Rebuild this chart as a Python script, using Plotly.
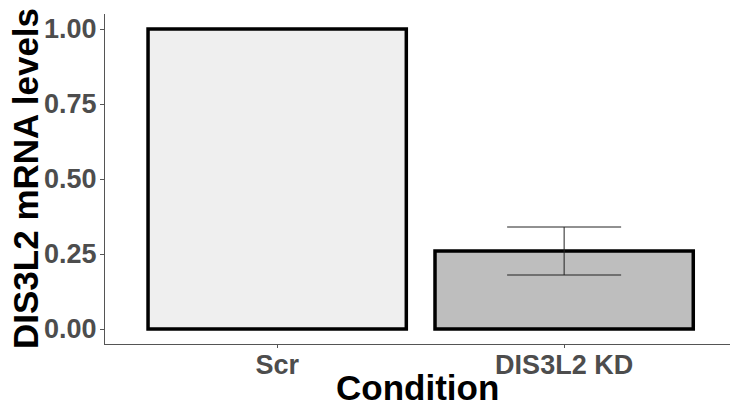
import plotly.graph_objects as go

conditions = ["Scr", "DIS3L2 KD"]
levels = [1.0, 0.26]
err_upper = [None, 0.34]
err_lower = [None, 0.18]
bar_colors = ["#EFEFEF", "#BEBEBE"]
y_ticks = [0.0, 0.25, 0.5, 0.75, 1.0]
y_tick_labels = ["0.00", "0.25", "0.50", "0.75", "1.00"]

FONT = "Liberation Sans, Arial, sans-serif"

fig = go.Figure()
fig.add_trace(go.Bar(
    x=conditions, y=levels, width=0.9,
    marker=dict(color=bar_colors, line=dict(color="black", width=3.5)),
    showlegend=False,
))
ex = [c for c, u in zip(conditions, err_upper) if u is not None]
ey = [l for l, u in zip(levels, err_upper) if u is not None]
eu = [u - l for l, u in zip(levels, err_upper) if u is not None]
el = [l - d for l, d in zip(levels, err_lower) if d is not None]
fig.add_trace(go.Scatter(
    x=ex, y=ey, mode="markers", marker=dict(size=0.1, color="rgba(0,0,0,0)"),
    error_y=dict(type="data", symmetric=False, array=eu, arrayminus=el,
                 color="#222222", thickness=1, width=57),
    showlegend=False, hoverinfo="skip",
))

fig.update_layout(
    width=730, height=404,
    margin=dict(l=105, r=0, t=14, b=60, autoexpand=False),
    paper_bgcolor="white", plot_bgcolor="white",
    font=dict(family=FONT),
    bargap=0.1,
)
fig.update_xaxes(
    range=[-0.6, 1.578], showline=True, linecolor="#555555", linewidth=1,
    ticks="outside", ticklen=3, tickcolor="#555555", automargin=False,
    tickfont=dict(size=27, color="#4D4D4D", family=FONT, weight="bold"),
    ticklabelstandoff=-6,
    showgrid=False, zeroline=False,
)
fig.update_yaxes(
    range=[-0.05, 1.05], showline=True, linecolor="#555555", linewidth=1,
    ticks="outside", ticklen=4, tickcolor="#555555", automargin=False,
    tickvals=y_ticks, ticktext=y_tick_labels,
    tickfont=dict(size=27, color="#4D4D4D", family=FONT, weight="bold"),
    ticklabelstandoff=-2,
    showgrid=False, zeroline=False,
)
fig.add_annotation(
    text="<b>Condition</b>", xref="paper", yref="paper", x=0.5, y=0,
    xanchor="center", yanchor="top", yshift=-22, showarrow=False,
    font=dict(size=35, color="black", family=FONT),
)
fig.add_annotation(
    text="<b>DIS3L2 mRNA levels</b>", xref="paper", yref="paper", x=0, y=0.5,
    xanchor="center", yanchor="middle", xshift=-80, textangle=-90, showarrow=False,
    font=dict(size=35, color="black", family=FONT),
)
fig.write_html(
    "out.html",
    config={"displayModeBar": False},
    post_script="document.body.style.margin='0';document.body.style.overflow='hidden';",
)
